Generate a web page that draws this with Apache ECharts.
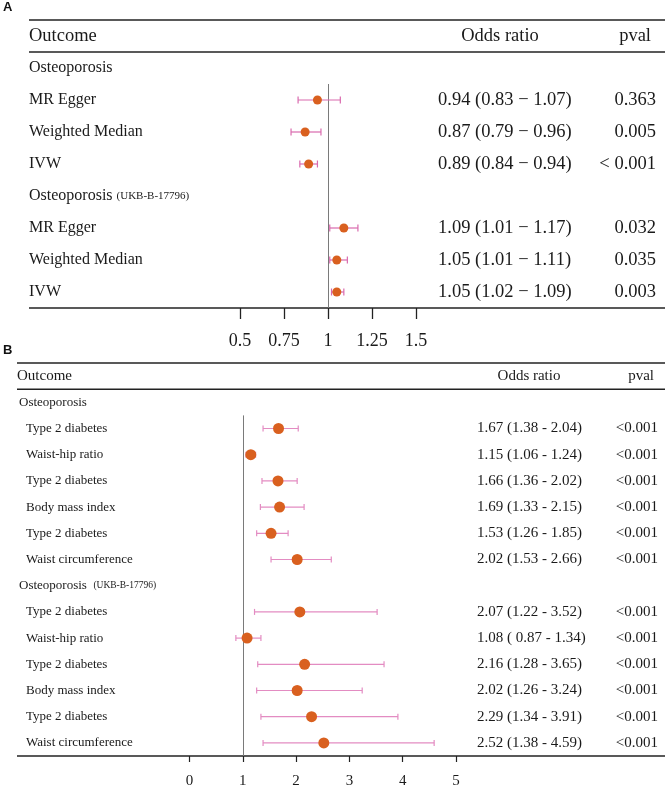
<!DOCTYPE html>
<html lang="en">
<head>
<meta charset="UTF-8">
<title>Forest plot</title>
<script src="https://cdn.jsdelivr.net/npm/echarts@6/dist/echarts.min.js"></script>
<style>
    html, body { margin: 0; padding: 0; background: #fff; }
    #main { width: 667px; height: 789px; }
</style>
</head>
<body>
<div id="main"></div>
<script>
// ---- panel A data ----
var aOutcome = ['Osteoporosis', 'MR Egger', 'Weighted Median', 'IVW',
                'Osteoporosis {s|(UKB-B-17796)}', 'MR Egger', 'Weighted Median', 'IVW'];
var aIsGroup = [true, false, false, false, true, false, false, false];
var aOR  = [null, 0.94, 0.87, 0.89, null, 1.09, 1.05, 1.05];
var aLow = [null, 0.83, 0.79, 0.84, null, 1.01, 1.01, 1.02];
var aUp  = [null, 1.07, 0.96, 0.94, null, 1.17, 1.11, 1.09];
var aORText = ['', '0.94 (0.83 \u2212 1.07)', '0.87 (0.79 \u2212 0.96)', '0.89 (0.84 \u2212 0.94)',
               '', '1.09 (1.01 \u2212 1.17)', '1.05 (1.01 \u2212 1.11)', '1.05 (1.02 \u2212 1.09)'];
var aPval = ['', '0.363', '0.005', '< 0.001', '', '0.032', '0.035', '0.003'];
var aTicks = [0.5, 0.75, 1, 1.25, 1.5];

// ---- panel B data ----
var bOutcome = ['Osteoporosis', 'Type 2 diabetes', 'Waist-hip ratio', 'Type 2 diabetes', 'Body mass index',
                'Type 2 diabetes', 'Waist circumference', 'Osteoporosis  {s|(UKB-B-17796)}', 'Type 2 diabetes',
                'Waist-hip ratio', 'Type 2 diabetes', 'Body mass index', 'Type 2 diabetes', 'Waist circumference'];
var bIsGroup = [true, false, false, false, false, false, false, true, false, false, false, false, false, false];
var bOR  = [null, 1.67, 1.15, 1.66, 1.69, 1.53, 2.02, null, 2.07, 1.08, 2.16, 2.02, 2.29, 2.52];
var bLow = [null, 1.38, 1.06, 1.36, 1.33, 1.26, 1.53, null, 1.22, 0.87, 1.28, 1.26, 1.34, 1.38];
var bUp  = [null, 2.04, 1.24, 2.02, 2.15, 1.85, 2.66, null, 3.52, 1.34, 3.65, 3.24, 3.91, 4.59];
var bORText = ['', '1.67 (1.38 - 2.04)', '1.15 (1.06 - 1.24)', '1.66 (1.36 - 2.02)', '1.69 (1.33 - 2.15)',
               '1.53 (1.26 - 1.85)', '2.02 (1.53 - 2.66)', '', '2.07 (1.22 - 3.52)', '1.08 ( 0.87 - 1.34)',
               '2.16 (1.28 - 3.65)', '2.02 (1.26 - 3.24)', '2.29 (1.34 - 3.91)', '2.52 (1.38 - 4.59)'];
var bPval = ['', '<0.001', '<0.001', '<0.001', '<0.001', '<0.001', '<0.001', '',
             '<0.001', '<0.001', '<0.001', '<0.001', '<0.001', '<0.001'];
var bTicks = [0, 1, 2, 3, 4, 5];

var SERIF = '"Liberation Serif", "Times New Roman", serif';
var INK = '#1a1a1a';
var DOT = '#d9601f';

// text cells of one table, row 0 is the header
function buildCells(outcome, isGroup, orText, pval, cfg) {
    var cells = [
        { row: 0, x: cfg.outX, text: 'Outcome', size: cfg.headSize, align: 'left' },
        { row: 0, x: cfg.orHeadX, text: 'Odds ratio', size: cfg.headSize, align: 'center' },
        { row: 0, x: cfg.pHeadX, text: 'pval', size: cfg.headSize, align: 'right' }
    ];
    outcome.forEach(function (name, i) {
        var r = i + 1;
        cells.push({ row: r, x: isGroup[i] ? cfg.groupX : cfg.labelX, text: name, size: cfg.labelSize, align: 'left' });
        if (orText[i]) cells.push({ row: r, x: cfg.orX, text: orText[i], size: cfg.numSize, align: 'left' });
        if (pval[i]) cells.push({ row: r, x: cfg.pX, text: pval[i], size: cfg.numSize, align: 'right' });
    });
    return cells;
}

function textSeries(idx, cells, subSize) {
    return {
        type: 'custom', xAxisIndex: idx, yAxisIndex: idx, silent: true, clip: false,
        data: cells.map(function (c) { return [1, c.row]; }),
        renderItem: function (params, api) {
            var c = cells[params.dataIndex];
            var y = api.coord([1, c.row])[1];
            return {
                type: 'text', x: c.x, y: y,
                style: {
                    text: c.text, fontFamily: SERIF, fontSize: c.size, fill: INK,
                    align: c.align, verticalAlign: 'middle',
                    rich: { s: { fontFamily: SERIF, fontSize: subSize, fill: INK } }
                }
            };
        }
    };
}

// full-width rules of the table
function ruleSeries(idx, rows, x1, x2, w) {
    return {
        type: 'custom', xAxisIndex: idx, yAxisIndex: idx, silent: true, clip: false,
        data: rows.map(function (r) { return [1, r]; }),
        renderItem: function (params, api) {
            var y = api.coord([1, rows[params.dataIndex]])[1];
            return { type: 'line', shape: { x1: x1, y1: y, x2: x2, y2: y }, style: { stroke: '#222', lineWidth: w } };
        }
    };
}

function refSeries(idx, from, to) {
    return {
        type: 'custom', xAxisIndex: idx, yAxisIndex: idx, silent: true, clip: false,
        data: [[1, from, to]],
        renderItem: function (params, api) {
            var p1 = api.coord([1, from]), p2 = api.coord([1, to]);
            return { type: 'line', shape: { x1: Math.round(p1[0]) + 0.5, y1: p1[1], x2: Math.round(p2[0]) + 0.5, y2: p2[1] },
                     style: { stroke: '#7a7a7a', lineWidth: 1 } };
        }
    };
}

function ciSeries(idx, low, up, color, cap) {
    var data = [];
    low.forEach(function (v, i) { if (v != null) data.push([v, up[i], i + 1]); });
    return {
        type: 'custom', xAxisIndex: idx, yAxisIndex: idx, silent: true, clip: false, z: 3,
        data: data,
        encode: { x: [0, 1], y: 2 },
        renderItem: function (params, api) {
            var a = api.coord([api.value(0), api.value(2)]);
            var b = api.coord([api.value(1), api.value(2)]);
            var st = { stroke: color, lineWidth: 1.2 };
            return {
                type: 'group', children: [
                    { type: 'line', shape: { x1: a[0], y1: a[1], x2: b[0], y2: b[1] }, style: st },
                    { type: 'line', shape: { x1: a[0], y1: a[1] - cap, x2: a[0], y2: a[1] + cap }, style: st },
                    { type: 'line', shape: { x1: b[0], y1: b[1] - cap, x2: b[0], y2: b[1] + cap }, style: st }
                ]
            };
        }
    };
}

function pointSeries(idx, or, size) {
    var data = [];
    or.forEach(function (v, i) { if (v != null) data.push([v, i + 1]); });
    return {
        type: 'scatter', xAxisIndex: idx, yAxisIndex: idx, silent: true, z: 4,
        symbol: 'circle', symbolSize: size, data: data,
        itemStyle: { color: DOT, opacity: 1 }
    };
}

var cellsA = buildCells(aOutcome, aIsGroup, aORText, aPval, {
    outX: 29, orHeadX: 500, pHeadX: 651, groupX: 29, labelX: 29, orX: 438, pX: 656,
    headSize: 18.5, labelSize: 16, numSize: 18.5
});
var cellsB = buildCells(bOutcome, bIsGroup, bORText, bPval, {
    outX: 17, orHeadX: 529, pHeadX: 654, groupX: 19, labelX: 26, orX: 477, pX: 658,
    headSize: 15, labelSize: 13, numSize: 15
});

var chart = echarts.init(document.getElementById('main'), null, { renderer: 'canvas' });
chart.setOption({
    animation: false,
    backgroundColor: '#fff',
    grid: [
        { left: 240, width: 176, top: 20, height: 288 },
        { left: 189.5, width: 266.5, top: 363, height: 394 }
    ],
    xAxis: [
        {
            gridIndex: 0, type: 'value', position: 'bottom',
            min: aTicks[0], max: aTicks[aTicks.length - 1], interval: 0.25,
            axisLine: { show: false, onZero: false }, splitLine: { show: false },
            axisTick: { show: true, length: 11, lineStyle: { color: '#222', width: 1.3 } },
            axisLabel: { margin: 24, fontSize: 18, fontFamily: SERIF, color: INK,
                         formatter: function (v) { return String(v); } }
        },
        {
            gridIndex: 1, type: 'value', position: 'bottom',
            min: bTicks[0], max: bTicks[bTicks.length - 1], interval: 1,
            axisLine: { show: false, onZero: false }, splitLine: { show: false },
            axisTick: { show: true, length: 6, lineStyle: { color: '#222', width: 1.2 } },
            axisLabel: { margin: 18, fontSize: 15, fontFamily: SERIF, color: INK }
        }
    ],
    yAxis: [
        { gridIndex: 0, type: 'value', min: -0.5, max: aOutcome.length + 0.5, inverse: true, show: false },
        { gridIndex: 1, type: 'value', min: -0.5, max: bOutcome.length + 0.5, inverse: true, show: false }
    ],
    graphic: [
        { type: 'text', left: 3, top: 1, style: { text: 'A', font: 'bold 13px "Liberation Sans", Arial, sans-serif', fill: '#111' } },
        { type: 'text', left: 3, top: 344, style: { text: 'B', font: 'bold 13px "Liberation Sans", Arial, sans-serif', fill: '#111' } }
    ],
    series: [
        ruleSeries(0, [-0.5, 0.5, aOutcome.length + 0.5], 29, 665, 1.6),
        refSeries(0, 1.5, aOutcome.length + 0.5),
        ciSeries(0, aLow, aUp, '#d96aae', 3.5),
        pointSeries(0, aOR, 9),
        textSeries(0, cellsA, 11),

        ruleSeries(1, [-0.5, 0.5, bOutcome.length + 0.5], 17, 665, 1.5),
        refSeries(1, 1.5, bOutcome.length + 0.5),
        ciSeries(1, bLow, bUp, '#e38cc2', 3),
        pointSeries(1, bOR, 11),
        textSeries(1, cellsB, 9.5)
    ]
});
</script>
</body>
</html>
